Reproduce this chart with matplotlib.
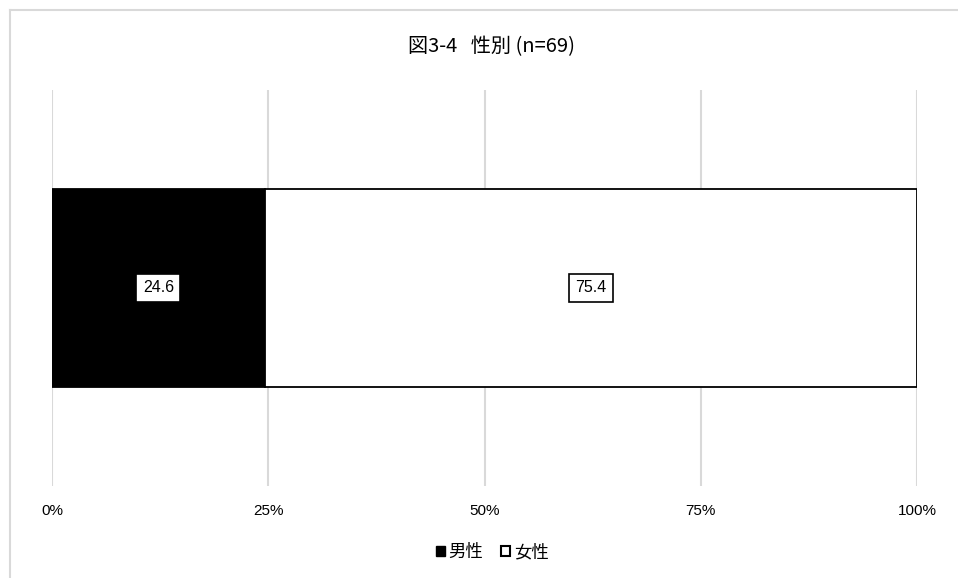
import matplotlib
matplotlib.use("Agg")
import matplotlib.pyplot as plt
from matplotlib.patches import Patch
from matplotlib.lines import Line2D

plt.rcParams['font.family'] = ['Noto Sans CJK JP', 'DejaVu Sans']

title = "図3-4   性別 (n=69)"
series_names = ["男性", "女性"]
values = [24.6, 75.4]
colors = ["#000000", "#ffffff"]
tick_values = [0, 25, 50, 75, 100]
tick_labels = ["0%", "25%", "50%", "75%", "100%"]

W, H = 958, 578
fig = plt.figure(figsize=(W / 100, H / 100), dpi=100)

# light frame around the chart area (left and top edges visible)
fig.add_artist(Line2D([9.5 / W, 9.5 / W], [0, 1 - 10 / H], color="#d9d9d9", lw=1.5,
                      transform=fig.transFigure))
fig.add_artist(Line2D([9.5 / W, 1], [1 - 10 / H, 1 - 10 / H], color="#d9d9d9", lw=1.5,
                      transform=fig.transFigure))

ax = fig.add_axes([52 / W, 1 - 486 / H, (917 - 52) / W, (486 - 90) / H])

left = 0
for name, v, c in zip(series_names, values, colors):
    ax.barh(0, v, left=left, height=0.5, color=c, edgecolor="black", linewidth=1.3,
            label=name, zorder=3)
    ax.text(left + v / 2, 0, f"{v:.1f}", ha="center", va="center", fontsize=11.5,
            family=['Liberation Sans', 'DejaVu Sans'],
            bbox=dict(boxstyle="square,pad=0.4", fc="white", ec="black", lw=1.2),
            zorder=5)
    left += v

ax.set_xlim(0, 100)
ax.set_ylim(-0.5, 0.5)
ax.set_xticks(tick_values)
ax.set_xticklabels(tick_labels, fontsize=11, family=['Liberation Sans', 'DejaVu Sans'])
ax.tick_params(axis="x", length=0, pad=13)
ax.set_yticks([])
ax.grid(axis="x", color="#d9d9d9", linewidth=1.5, zorder=0)
for s in ax.spines.values():
    s.set_visible(False)

fig.text(492 / W, 1 - 47 / H, title, ha="center", va="center", fontsize=14.5)

handles = [Patch(facecolor="black", edgecolor="black", lw=1.0),
           Patch(facecolor="white", edgecolor="black", lw=1.5)]
fig.legend(handles, series_names, loc="center", bbox_to_anchor=(492 / W, 1 - 552 / H),
           ncol=2, frameon=False, fontsize=12.5, handlelength=0.55, handleheight=0.55,
           handletextpad=0.2, columnspacing=1.0)

fig.savefig("out.png", dpi=100, facecolor="white")
